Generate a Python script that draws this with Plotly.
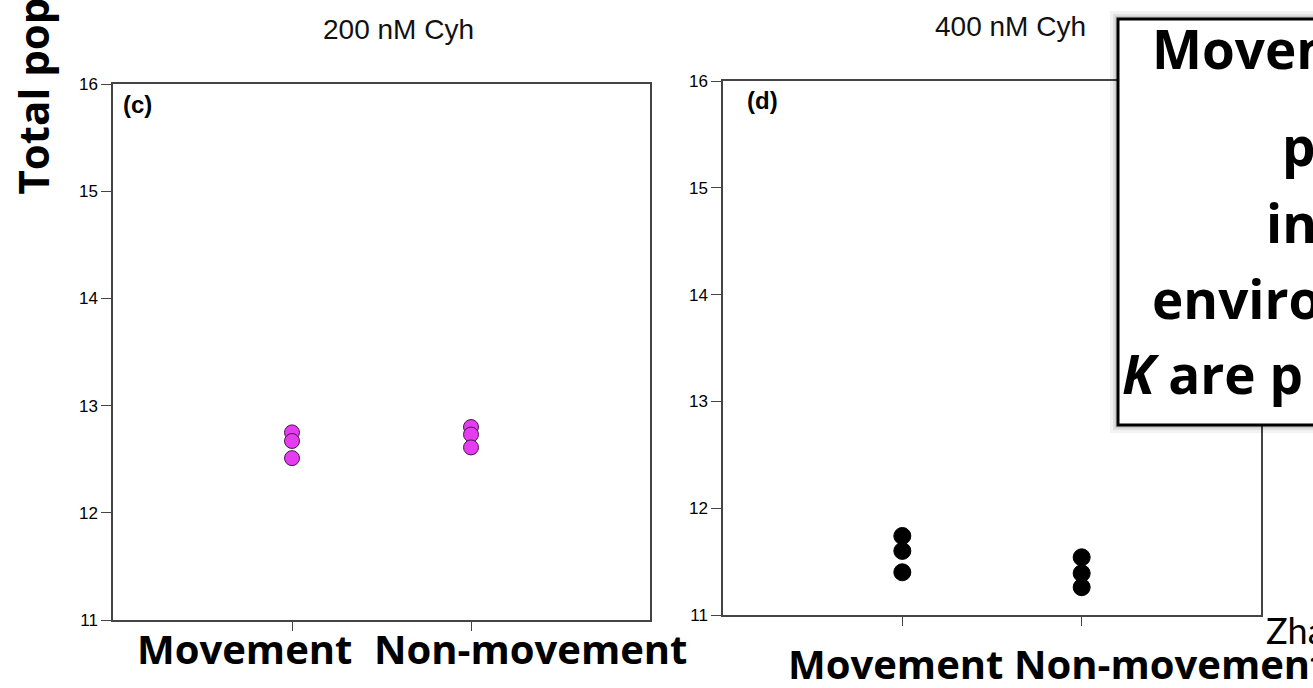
import plotly.graph_objects as go

W, H = 1313, 688

categories = ["Movement", "Non-movement"]

# 200 nM Cyh, panel (c)
c_movement = [12.75, 12.67, 12.51]
c_nonmovement = [12.80, 12.73, 12.61]

# 400 nM Cyh, panel (d)
d_movement = [11.74, 11.60, 11.40]
d_nonmovement = [11.54, 11.39, 11.26]

y_ticks = [11, 12, 13, 14, 15, 16]
panel_titles = ["200 nM Cyh", "400 nM Cyh"]
panel_tags = ["(c)", "(d)"]
box_lines = ["Movement", "p", "in", "environments", "K are p"]


def px(x):
    return x / W


def py(y):
    return 1 - y / H


fig = go.Figure()

# panel (c)
for i, vals in enumerate([c_movement, c_nonmovement]):
    fig.add_trace(go.Scatter(
        x=[i] * len(vals), y=vals, mode="markers",
        marker=dict(size=15, color="#E43CEE", line=dict(color="#4a1450", width=1)),
        xaxis="x", yaxis="y", showlegend=False, cliponaxis=False))

# panel (d)
for i, vals in enumerate([d_movement, d_nonmovement]):
    fig.add_trace(go.Scatter(
        x=[i] * len(vals), y=vals, mode="markers",
        marker=dict(size=17, color="black", line=dict(color="black", width=1)),
        xaxis="x2", yaxis="y2", showlegend=False, cliponaxis=False))

axis_common = dict(showline=True, linecolor="#444", linewidth=1.5, mirror=True,
                   showgrid=False, zeroline=False, ticks="outside", automargin=False,
                   tickcolor="#444", tickwidth=1.2)

xax = dict(axis_common, range=[-1, 2], tickvals=[0, 1], ticktext=["", ""], ticklen=9)
yax = dict(axis_common, range=[11, 16], tickvals=y_ticks, ticklen=10,
           tickfont=dict(family="Liberation Sans, Arial", size=17, color="black"))

fig.update_layout(
    width=W, height=H,
    margin=dict(l=0, r=0, t=0, b=0, pad=0, autoexpand=False),
    paper_bgcolor="white", plot_bgcolor="white",
    xaxis=dict(xax, domain=[px(113), px(650)], anchor="y"),
    yaxis=dict(yax, domain=[py(620), py(84)], anchor="x"),
    xaxis2=dict(xax, domain=[px(723), px(1261)], anchor="y2"),
    yaxis2=dict(yax, domain=[py(615), py(81)], anchor="x2"),
)


def note(text, x, y, xa="center", ya="middle", **kw):
    return dict(text=text, x=px(x), y=py(y), xref="paper", yref="paper",
                xanchor=xa, yanchor=ya, showarrow=False, **kw)


ann = []
title_font = dict(family="Liberation Sans, Arial", size=28, color="#111")
ann.append(note(panel_titles[0], 476, 30, xa="right", font=title_font))
ann.append(note(panel_titles[1], 1088, 27, xa="right", font=title_font))

tag_font = dict(family="Liberation Sans, Arial", size=24, color="black")
ann.append(note("<b>%s</b>" % panel_tags[0], 121, 104, xa="left", font=tag_font))
ann.append(note("<b>%s</b>" % panel_tags[1], 745, 100, xa="left", font=tag_font))

# category labels under each panel
lab_font = dict(family="Open Sans", size=40, color="black")
for xc, yc, t, xa in [(244, 648, categories[0], "center"), (372, 648, categories[1], "left"),
                      (895, 663, categories[0], "center"), (1012, 663, categories[1], "left")]:
    ann.append(note("<b>%s</b>" % t, xc, yc, xa=xa, font=lab_font))

# y axis title
ann.append(note("<b>Total population</b>", 32, 197, ya="bottom", textangle=-90,
                font=dict(family="Open Sans", size=42, color="black")))

# text box lines
box_font = dict(family="Open Sans", size=53, color="black")
for (x0, ymid), t in zip([(1150, 48), (1280, 146), (1264, 222), (1150, 298), (1120, 373)], box_lines):
    txt = "<b><i>K</i> are p</b>" if t.startswith("K ") else "<b>%s</b>" % t
    ann.append(note(txt, x0, ymid, xa="left", font=box_font))

# citation
ann.append(note("Zhang", 1264, 630, xa="left",
                font=dict(family="Lato", size=36, color="black")))

fig.update_layout(annotations=ann)

shapes = []
# soft shadow round the text box
for k, op in [(8, 0.05), (5, 0.07), (3, 0.09)]:
    shapes.append(dict(type="rect", xref="paper", yref="paper",
                       x0=px(1118 - k), x1=px(1400), y0=py(425 + k), y1=py(19 - k),
                       fillcolor="rgba(0,0,0,%s)" % op, line=dict(width=0), layer="above"))
shapes.append(dict(type="rect", xref="paper", yref="paper",
                   x0=px(1118), x1=px(1400), y0=py(425), y1=py(19),
                   fillcolor="white", line=dict(color="black", width=3), layer="above"))
fig.update_layout(shapes=shapes)

fig.write_html("out.html")
